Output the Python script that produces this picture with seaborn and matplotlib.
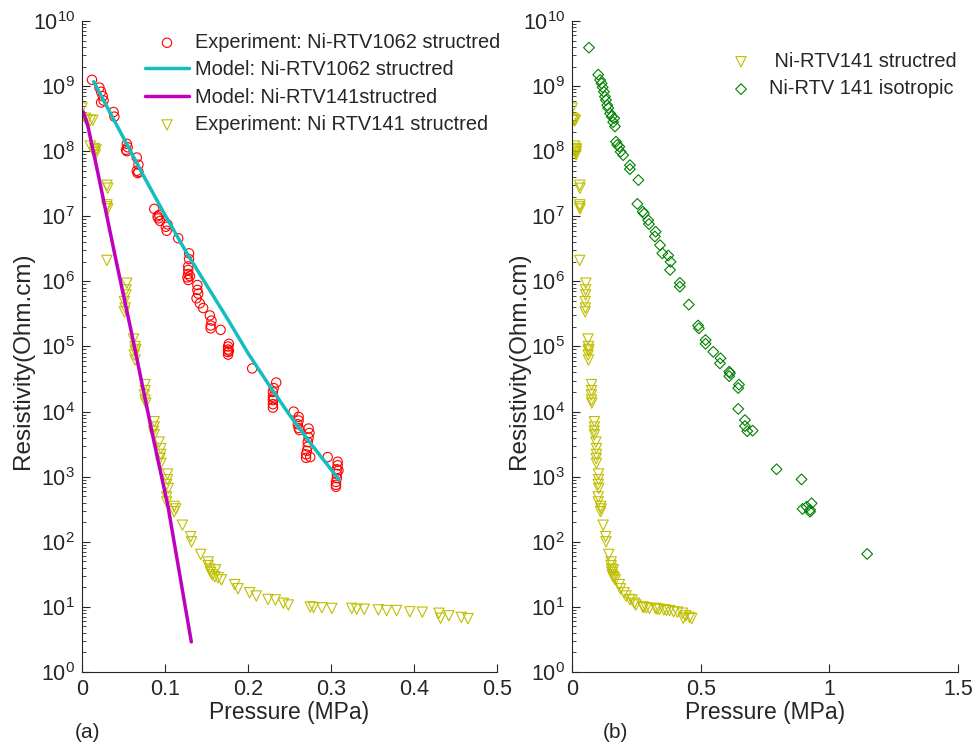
import numpy as np
import pandas as pd
import matplotlib
matplotlib.use("Agg")
import matplotlib.pyplot as plt
import matplotlib.ticker as mticker
import seaborn as sns

# Ni-RTV1062 structured, experiment
red_x = [0.012, 0.021, 0.023, 0.025, 0.026, 0.023, 0.038, 0.039, 0.054, 0.055, 0.053, 0.054,
         0.066, 0.068, 0.066, 0.067, 0.068, 0.087, 0.093, 0.092, 0.091, 0.094, 0.101, 0.102,
         0.103, 0.116, 0.129, 0.129, 0.128, 0.128, 0.128, 0.127, 0.128, 0.130, 0.139, 0.139,
         0.140, 0.138, 0.142, 0.146, 0.154, 0.156, 0.155, 0.155, 0.167, 0.177, 0.176, 0.176,
         0.176, 0.176, 0.177, 0.205, 0.234, 0.231, 0.230, 0.230, 0.230, 0.230, 0.230, 0.231,
         0.255, 0.261, 0.261, 0.260, 0.261, 0.262, 0.273, 0.274, 0.273, 0.272, 0.272, 0.271,
         0.270, 0.270, 0.275, 0.296, 0.308, 0.308, 0.307, 0.307, 0.307, 0.306, 0.306, 0.306,
         0.309]
red_y = [1.25e9, 9.5e8, 8.2e8, 7.0e8, 6.0e8, 5.6e8, 4.0e8, 3.4e8, 1.3e8, 1.15e8, 1.05e8, 1.0e8,
         8.0e7, 6.2e7, 5.0e7, 4.6e7, 4.8e7, 1.3e7, 1.05e7, 9.3e6, 1.0e7, 8.5e6, 6.9e6, 6.0e6,
         7.5e6, 4.6e6, 2.7e6, 2.2e6, 1.7e6, 1.5e6, 1.3e6, 1.15e6, 1.05e6, 1.2e6, 8.8e5, 7.4e5,
         6.5e5, 5.5e5, 4.6e5, 3.9e5, 3.0e5, 2.5e5, 2.1e5, 1.9e5, 1.8e5, 1.1e5, 1.0e5, 9.0e4,
         8.2e4, 7.5e4, 8.6e4, 4.6e4, 2.8e4, 2.3e4, 2.0e4, 1.7e4, 1.5e4, 1.3e4, 1.15e4, 1.6e4,
         1.0e4, 8.3e3, 7.3e3, 6.4e3, 5.6e3, 5.2e3, 5.5e3, 4.7e3, 4.0e3, 3.4e3, 2.9e3, 2.5e3,
         2.2e3, 1.95e3, 2.0e3, 2.0e3, 1.7e3, 1.5e3, 1.3e3, 1.1e3, 9.5e2, 8.3e2, 7.5e2, 7.0e2,
         1.25e3]

# model curves
cyan_x = [0.014, 0.05, 0.075, 0.1, 0.125, 0.15, 0.175, 0.2, 0.225, 0.25, 0.275, 0.31]
cyan_y = [1.17e9, 1.6e8, 4.0e7, 1.05e7, 2.9e6, 8.8e5, 2.7e5, 7.9e4, 2.6e4, 8.9e3, 3.3e3, 8.9e2]
mag_x = [0.0016, 0.0072, 0.02, 0.041, 0.06, 0.0855, 0.1036, 0.118, 0.1317]
mag_y = [4.0e8, 2.4e8, 4.1e7, 2.1e6, 1.55e5, 4.1e3, 3.5e2, 30.0, 2.9]

# Ni-RTV141 structured, experiment
yel_x = [0.000, 0.004, 0.006, 0.010, 0.013, 0.010, 0.015, 0.016, 0.015, 0.016, 0.017,
         0.030, 0.031, 0.030, 0.031, 0.030, 0.030, 0.054, 0.053, 0.053, 0.051, 0.052, 0.051,
         0.062, 0.064, 0.064, 0.063, 0.064, 0.065, 0.076, 0.076, 0.075, 0.076, 0.077,
         0.087, 0.087, 0.086, 0.087, 0.093, 0.095, 0.095, 0.094, 0.095, 0.103, 0.103, 0.102,
         0.104, 0.102, 0.102, 0.111, 0.111, 0.113, 0.121, 0.131, 0.132, 0.143, 0.152, 0.152,
         0.154, 0.155, 0.157, 0.160, 0.161, 0.164, 0.168, 0.184, 0.188, 0.202, 0.210, 0.224,
         0.233, 0.2425, 0.2486, 0.275, 0.279, 0.289, 0.301, 0.325, 0.331, 0.340, 0.357,
         0.367, 0.379, 0.395, 0.410, 0.430, 0.432, 0.442, 0.457, 0.465]
yel_y = [4.6e8, 3.2e8, 3.0e8, 2.95e8, 3.0e8, 1.2e8, 1.1e8, 1.0e8, 9.5e7, 8.8e7, 1.05e8,
         3.0e7, 2.7e7, 1.5e7, 1.3e7, 1.4e7, 2.1e6, 9.4e5, 7.4e5, 6.2e5, 4.9e5, 3.9e5, 3.4e5,
         1.3e5, 1.0e5, 8.5e4, 7.4e4, 6.2e4, 9.0e4, 2.6e4, 2.1e4, 1.8e4, 1.5e4, 1.35e4,
         7.0e3, 5.8e3, 5.0e3, 4.4e3, 3.4e3, 2.7e3, 2.2e3, 1.9e3, 1.6e3, 1.1e3, 9.0e2, 7.6e2,
         6.6e2, 4.9e2, 4.1e2, 3.5e2, 2.9e2, 3.2e2, 1.8e2, 1.2e2, 1.0e2, 64, 49, 43,
         38, 34, 31, 29, 37, 28, 26, 22, 19, 16.5, 14.7, 13,
         12.8, 11.4, 10.7, 10, 9.8, 9.7, 9.5, 9.5, 9.2, 9.2, 9.0,
         8.8, 8.8, 8.4, 8.3, 8.0, 6.7, 7.3, 6.9, 6.6]

# Ni-RTV 141 isotropic
grn_x = [0.066, 0.102, 0.109, 0.115, 0.119, 0.124, 0.128, 0.132, 0.137, 0.141, 0.148, 0.154,
         0.160, 0.167, 0.164, 0.171, 0.176, 0.184, 0.189, 0.199, 0.225, 0.225, 0.258, 0.254,
         0.275, 0.280, 0.296, 0.299, 0.325, 0.322, 0.342, 0.351, 0.374, 0.383, 0.381, 0.419,
         0.419, 0.454, 0.490, 0.493, 0.519, 0.519, 0.549, 0.577, 0.575, 0.611, 0.614, 0.611,
         0.649, 0.646, 0.646, 0.672, 0.672, 0.681, 0.702, 0.795, 0.892, 0.896, 0.912, 0.925,
         0.925, 0.931, 1.147]
grn_y = [3.9e9, 1.5e9, 1.24e9, 1.1e9, 9.6e8, 8.2e8, 6.9e8, 6.1e8, 5.1e8, 4.6e8, 3.8e8, 3.4e8,
         2.8e8, 2.4e8, 3.2e8, 1.4e8, 1.25e8, 1.17e8, 9.8e7, 8.7e7, 6.1e7, 5.3e7, 3.6e7, 1.55e7,
         1.18e7, 1.1e7, 8.7e6, 7.6e6, 5.8e6, 4.9e6, 3.6e6, 2.7e6, 2.5e6, 2.0e6, 1.5e6, 9.5e5,
         8.3e5, 4.4e5, 2.1e5, 1.9e5, 1.26e5, 1.1e5, 8.3e4, 6.6e4, 5.5e4, 4.1e4, 3.9e4, 3.5e4,
         2.6e4, 2.3e4, 1.1e4, 7.4e3, 6.0e3, 5.0e3, 5.1e3, 1.3e3, 9.1e2, 3.2e2, 3.45e2, 3.1e2,
         2.9e2, 3.9e2, 65]

xticks_a = [0, 0.1, 0.2, 0.3, 0.4, 0.5]
xlabels_a = ['0', '0.1', '0.2', '0.3', '0.4', '0.5']
xticks_b = [0, 0.5, 1, 1.5]
xlabels_b = ['0', '0.5', '1', '1.5']

RED = '#ff0000'
CYAN = '#14bebe'
MAG = '#bf00bf'
YEL = '#bfbf00'
GRN = '#008000'

sns.set_style('ticks')
plt.rcParams['font.family'] = ['Liberation Sans', 'DejaVu Sans']
plt.rcParams['mathtext.default'] = 'regular'

fig = plt.figure(figsize=(9.74, 7.47), dpi=100)
W, H = 974, 747
ax1 = fig.add_axes([82 / W, 1 - 672 / H, 415 / W, 651 / H])
ax2 = fig.add_axes([572 / W, 1 - 672 / H, 386 / W, 651 / H])

mk = dict(facecolor='none', linewidth=0.8)

sns.scatterplot(x=red_x, y=red_y, ax=ax1, marker='o', s=45, edgecolor=RED, color=RED,
                label='Experiment: Ni-RTV1062 structred', **mk)
sns.lineplot(x=cyan_x, y=cyan_y, ax=ax1, color=CYAN, lw=2.5, sort=False,
             label='Model: Ni-RTV1062 structred')
sns.lineplot(x=mag_x, y=mag_y, ax=ax1, color=MAG, lw=2.5, sort=False,
             label='Model: Ni-RTV141structred')
sns.scatterplot(x=yel_x, y=yel_y, ax=ax1, marker='v', s=55, edgecolor=YEL, color=YEL,
                label='Experiment: Ni RTV141 structred', **mk)

sns.scatterplot(x=yel_x, y=yel_y, ax=ax2, marker='v', s=55, edgecolor=YEL, color=YEL,
                label=' Ni-RTV141 structred', **mk)
sns.scatterplot(x=grn_x, y=grn_y, ax=ax2, marker='D', s=30, edgecolor=GRN, color=GRN,
                label='Ni-RTV 141 isotropic', **mk)

for ax, xt, xl, xmax, lx in [(ax1, xticks_a, xlabels_a, 0.5, (34 - 82) / 415),
                             (ax2, xticks_b, xlabels_b, 1.5, (530 - 572) / 386)]:
    ax.set_yscale('log')
    ax.set_xlim(0, xmax)
    ax.set_ylim(1, 1e10)
    ax.set_xticks(xt)
    ax.set_xticklabels(xl)
    ax.yaxis.set_major_locator(mticker.FixedLocator([10.0 ** k for k in range(11)]))
    ax.yaxis.set_major_formatter(mticker.LogFormatterSciNotation())
    ax.yaxis.set_minor_locator(mticker.LogLocator(base=10, subs=np.arange(2, 10), numticks=100))
    ax.yaxis.set_minor_formatter(mticker.NullFormatter())
    ax.tick_params(which='major', direction='in', length=6, width=0.8, labelsize=15.5, pad=5)
    ax.tick_params(which='minor', direction='in', length=3, width=0.6)
    ax.tick_params(axis='x', which='minor', bottom=False)
    sns.despine(ax=ax)
    ax.set_xlabel('Pressure (MPa)', fontsize=16.5, labelpad=1)
    ax.set_ylabel('Resistivity(Ohm.cm)', fontsize=17.5)
    ax.yaxis.set_label_coords(lx, (672 - 361) / 651)
    ax.grid(False)

leg_kw = dict(frameon=False, fontsize=14.4, loc='upper left', borderpad=0, borderaxespad=0,
              handlelength=2.2, handletextpad=0.3, labelspacing=0.42, scatterpoints=1,
              bbox_transform=fig.transFigure)
ax1.legend(bbox_to_anchor=(145 / W, 1 - 33 / H), **leg_kw)
ax2.legend(bbox_to_anchor=(719 / W, 1 - 52 / H), **leg_kw)

fig.text(87 / W, 1 - 732 / H, '(a)', ha='center', va='center', fontsize=15)
fig.text(615 / W, 1 - 732 / H, '(b)', ha='center', va='center', fontsize=15)

fig.savefig('out.png', dpi=100)
